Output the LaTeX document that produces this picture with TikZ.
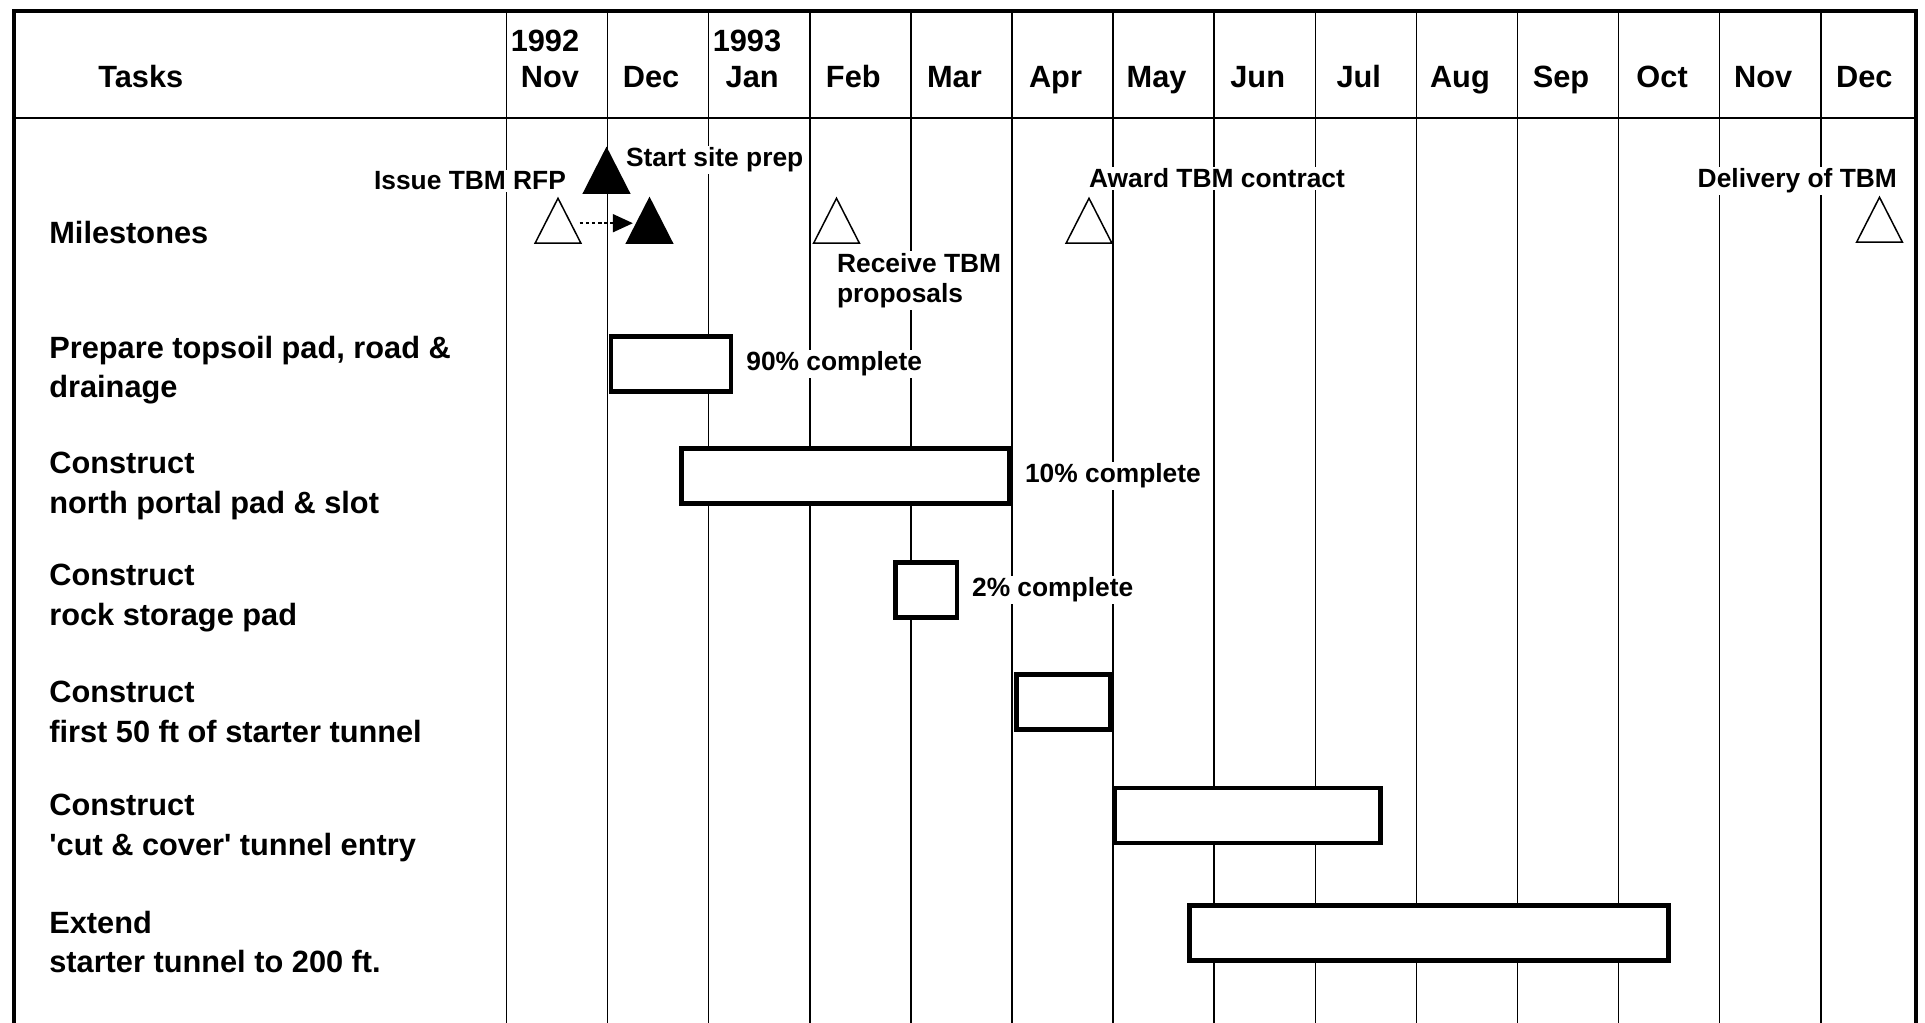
\documentclass[tikz,border=0pt]{standalone}
\usepackage{fontspec}
\setmainfont{Liberation Sans}
\usetikzlibrary{arrows.meta,positioning,shapes.geometric}

\begin{document}
\begin{tikzpicture}[x=0.02cm, y=-0.02cm, frame/.style={line width=0.08cm}, grid/.style={line width=0.03cm}, task/.style={anchor=west, align=left, inner sep=0pt, font=\fontsize{17.5}{22.5}\selectfont\bfseries}, mon/.style={anchor=base, inner sep=0pt, font=\fontsize{17.5}{21}\selectfont\bfseries}, note/.style={inner sep=1pt, fill=white, align=left, font=\fontsize{15}{17.5}\selectfont\bfseries}, bar/.style={draw, line width=0.09cm, fill=white, inner sep=0pt, minimum height=1.1cm}, ms/.style={draw, line width=0.03cm, fill=white, isosceles triangle, isosceles triangle apex angle=54, shape border rotate=90, inner sep=0pt, minimum width=0.9cm, minimum height=0.9cm, anchor=lower side}, done/.style={ms, fill=black}, dasharr/.style={dash pattern=on 2pt off 1.5pt, line width=0.9pt, -{Triangle[length=4mm,width=3.6mm]}}]
\useasboundingbox (0,0) rectangle (1925,1023);
\foreach \i in {0,...,13} \draw[grid] ({506.5+101.1*\i},12) -- ({506.5+101.1*\i},1023);
\draw[grid] (14,118) -- (1916,118);
\draw[frame] (14,1023) -- (14,11) -- (1916,11) -- (1916,1023);
\node[mon, anchor=base west] (tasks) at (98,88) {Tasks};
\foreach \m [count=\i from 0] in {Nov,Dec,Jan,Feb,Mar,Apr,May,Jun,Jul,Aug,Sep,Oct,Nov,Dec}
  \node[mon] (m\i) at ({550+101.1*\i},88) {\m};
\node[mon] (y1992) at (545,52) {1992};
\node[mon] (y1993) at (747,52) {1993};
\node[task] (lmil) at (49,233) {Milestones};
\node[task] (lprep) at (49,370) {Prepare topsoil pad, road \&\\drainage};
\node[task] (lnorth) at (49,486) {Construct\\north portal pad \& slot};
\node[task] (lrock) at (49,598) {Construct\\rock storage pad};
\node[task] (lfirst) at (49,712) {Construct\\first 50 ft of starter tunnel};
\node[task] (lcut) at (49,828) {Construct\\\textquotesingle cut \& cover\textquotesingle{} tunnel entry};
\node[task] (lext) at (49,942) {Extend\\starter tunnel to 200 ft.};
\node[bar, minimum width=2.4cm] (prep) at (671,364) {};
\node[bar, minimum width=6.57cm] (north) at (845.5,476) {};
\node[bar, minimum width=1.23cm] (rock) at (926,590) {};
\node[bar, minimum width=1.87cm] (first) at (1063,702) {};
\node[bar, minimum width=5.33cm] (cut) at (1247.5,815.5) {};
\node[bar, minimum width=9.59cm] (ext) at (1429,933) {};
\node[note, right=0.22cm of prep] (p90) {90\% complete};
\node[note, right=0.22cm of north] (p10) {10\% complete};
\node[note, right=0.22cm of rock] (p2) {2\% complete};
\node[ms] (rfp) at (558,244) {};
\node[done] (site) at (606.5,194) {};
\node[done] (site2) at (649.5,244) {};
\node[ms] (rcv) at (836.5,244) {};
\node[ms] (award) at (1089,244) {};
\node[ms] (deliv) at (1879.5,243) {};
\node[note, anchor=base east] (trfp) at (568,190) {Issue TBM RFP};
\node[note, anchor=base west] (tsite) at (624,167) {Start site prep};
\node[note, anchor=north west] (trcv) at (835,251) {Receive TBM\\proposals};
\node[note, anchor=base west] (taward) at (1087,188) {Award TBM contract};
\node[note, anchor=base east] (tdeliv) at (1899,188) {Delivery of TBM};
\draw[dasharr, shorten <=0.1cm] ([yshift=0.12cm]rfp.east) -- ([yshift=0.12cm]site2.west);
\end{tikzpicture}
\end{document}
